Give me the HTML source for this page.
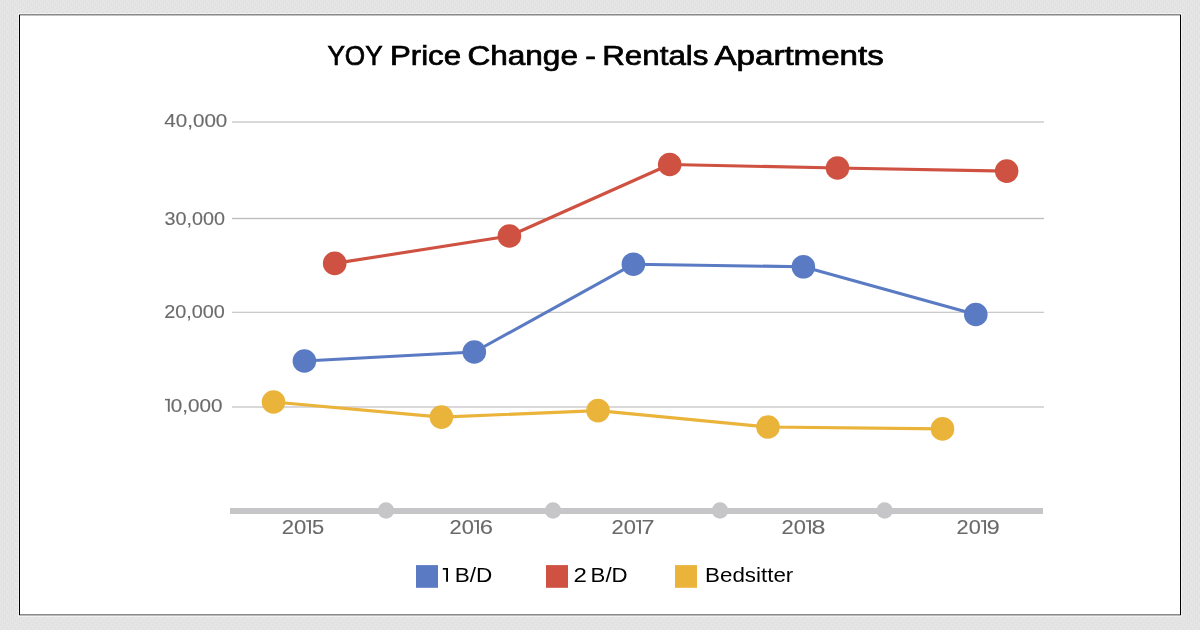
<!DOCTYPE html>
<html><head><meta charset="utf-8">
<style>
html,body{margin:0;padding:0;width:1200px;height:630px;overflow:hidden;background:#e4e4e4;}
svg{display:block;will-change:transform;}
text{font-family:"Liberation Sans",sans-serif;}
</style></head>
<body>
<svg width="1200" height="630" viewBox="0 0 1200 630">
<defs><pattern id="dots" x="0" y="0" width="8" height="8" patternUnits="userSpaceOnUse"><g fill="#d9d9d9" shape-rendering="crispEdges"><rect x="1" y="0" width="1" height="1"/><rect x="5" y="1" width="1" height="1"/><rect x="3" y="3" width="1" height="1"/><rect x="7" y="4" width="1" height="1"/><rect x="1" y="5" width="1" height="1"/><rect x="5" y="6" width="1" height="1"/><rect x="3" y="7" width="1" height="1"/></g></pattern></defs>
<rect x="0" y="0" width="1200" height="630" fill="#e5e5e5"/>
<rect x="0" y="0" width="1200" height="630" fill="url(#dots)"/>
<rect x="18" y="13" width="1164" height="604" fill="#f0f0f0"/>
<rect x="19" y="14" width="1162" height="602" fill="#ffffff"/>
<rect x="19" y="14" width="1162" height="1" fill="#8a8a8a"/>
<rect x="19" y="15" width="1162" height="1" fill="#c2c2c2"/>
<rect x="19" y="614" width="1162" height="1" fill="#8a8a8a"/>
<rect x="19" y="615" width="1162" height="1" fill="#b8b8b8"/>
<rect x="19" y="15" width="1" height="600" fill="#000"/>
<rect x="1180" y="15" width="1" height="600" fill="#000"/>

<g font-size="26.8" fill="#000" stroke="#000" stroke-width="0.7">
<text x="327.41" y="64.8" textLength="55.26" lengthAdjust="spacingAndGlyphs">YOY</text>
<text x="389.92" y="64.8" textLength="71.15" lengthAdjust="spacingAndGlyphs">Price</text>
<text x="467.4" y="64.8" textLength="110.56" lengthAdjust="spacingAndGlyphs">Change</text>
<text x="585.28" y="64.8" textLength="10.67" lengthAdjust="spacingAndGlyphs">-</text>
<text x="602.2" y="64.8" textLength="106.27" lengthAdjust="spacingAndGlyphs">Rentals</text>
<text x="714.48" y="64.8" textLength="169.31" lengthAdjust="spacingAndGlyphs">Apartments</text>
</g>
<rect x="232" y="121" width="812" height="2" fill="#dad8da"/>
<rect x="232" y="217.8" width="812" height="1.4" fill="#c0bec0"/>
<rect x="232" y="311.7" width="812" height="1.3" fill="#cbcacb"/>
<rect x="232" y="406" width="812" height="2" fill="#dad8da"/>
<g fill="#6a6a6a" font-size="18.9" stroke="#6a6a6a" stroke-width="0.12">
<text x="164.29" y="126.9" textLength="63.05" lengthAdjust="spacingAndGlyphs">40,000</text>
<text x="164.49" y="224.6" textLength="60.44" lengthAdjust="spacingAndGlyphs">30,000</text>
<text x="164.22" y="317.8" textLength="60.64" lengthAdjust="spacingAndGlyphs">20,000</text>
<rect x="165.0" y="398.90000000000003" width="4.7" height="1.45" stroke="none"/><rect x="167.85" y="398.90000000000003" width="1.85" height="12.9" stroke="none"/>
<text x="170.69" y="411.8" textLength="51.76" lengthAdjust="spacingAndGlyphs">0,000</text>
</g>
<rect x="230" y="508" width="813" height="6" fill="#c6c5c8"/>
<g fill="#c6c5c8"><circle cx="386" cy="510.5" r="8.2"/><circle cx="553" cy="510.5" r="8.2"/><circle cx="720" cy="510.5" r="8.2"/><circle cx="884.6" cy="510.5" r="8.2"/></g>
<g fill="#6a6a6a" font-size="19.8" stroke="#6a6a6a" stroke-width="0.12">
<text x="281.68" y="533.8" textLength="24.57" lengthAdjust="spacingAndGlyphs">20</text>
<rect x="306.1" y="520.25" width="4.8" height="1.5" stroke="none"/><rect x="309.0" y="520.25" width="1.9" height="13.55" stroke="none"/>
<text x="312.11" y="533.8" textLength="12.19" lengthAdjust="spacingAndGlyphs">5</text>
<text x="449.64" y="533.8" textLength="24.37" lengthAdjust="spacingAndGlyphs">20</text>
<rect x="473.9" y="520.25" width="5.0" height="1.5" stroke="none"/><rect x="477.0" y="520.25" width="1.9" height="13.55" stroke="none"/>
<text x="479.86" y="533.8" textLength="13.24" lengthAdjust="spacingAndGlyphs">6</text>
<text x="611.64" y="533.8" textLength="24.37" lengthAdjust="spacingAndGlyphs">20</text>
<rect x="635.9" y="520.25" width="5.0" height="1.5" stroke="none"/><rect x="639.0" y="520.25" width="1.9" height="13.55" stroke="none"/>
<text x="641.49" y="533.8" textLength="13.01" lengthAdjust="spacingAndGlyphs">7</text>
<text x="781.64" y="533.8" textLength="24.37" lengthAdjust="spacingAndGlyphs">20</text>
<rect x="805.9" y="520.25" width="5.0" height="1.5" stroke="none"/><rect x="809.0" y="520.25" width="1.9" height="13.55" stroke="none"/>
<text x="811.56" y="533.8" textLength="13.92" lengthAdjust="spacingAndGlyphs">8</text>
<text x="956.64" y="533.8" textLength="24.18" lengthAdjust="spacingAndGlyphs">20</text>
<rect x="981.0" y="520.25" width="5.0" height="1.5" stroke="none"/><rect x="984.1" y="520.25" width="1.9" height="13.55" stroke="none"/>
<text x="986.66" y="533.8" textLength="12.97" lengthAdjust="spacingAndGlyphs">9</text>
</g>
<polyline fill="none" stroke="#cf5141" stroke-width="3.1" stroke-linejoin="round" points="334.7,263.4 509.4,236 669.7,164.5 837.5,168 1006.7,171.1"/>
<g fill="#cf5141"><circle cx="334.7" cy="263.4" r="11.8"/><circle cx="509.4" cy="236" r="11.8"/><circle cx="669.7" cy="164.5" r="11.8"/><circle cx="837.5" cy="168" r="11.8"/><circle cx="1006.7" cy="171.1" r="11.8"/></g>
<polyline fill="none" stroke="#5a7bc3" stroke-width="3.1" stroke-linejoin="round" points="304.4,361 474.3,352 633.4,264.2 803.4,266.8 975.8,314.5"/>
<g fill="#5a7bc3"><circle cx="304.4" cy="361" r="11.8"/><circle cx="474.3" cy="352" r="11.8"/><circle cx="633.4" cy="264.2" r="11.8"/><circle cx="803.4" cy="266.8" r="11.8"/><circle cx="975.8" cy="314.5" r="11.8"/></g>
<polyline fill="none" stroke="#eab43a" stroke-width="3.1" stroke-linejoin="round" points="273.5,402 441.4,417.1 598,410.6 768,427 942.5,428.9"/>
<g fill="#eab43a"><circle cx="273.5" cy="402" r="11.8"/><circle cx="441.4" cy="417.1" r="11.8"/><circle cx="598" cy="410.6" r="11.8"/><circle cx="768" cy="427" r="11.8"/><circle cx="942.5" cy="428.9" r="11.8"/></g>
<rect x="416" y="565.1" width="22" height="22.7" fill="#5a7bc3"/>
<rect x="546" y="565.1" width="22" height="22.7" fill="#cf5141"/>
<rect x="675" y="565.1" width="22" height="22.7" fill="#eab43a"/>
<g fill="#000" font-size="20">
<rect x="442.8" y="568" width="5.2" height="1.7" stroke="none"/><rect x="446.1" y="568" width="1.9" height="13.75" stroke="none"/>
<text x="454.8" y="581.8" textLength="37.59" lengthAdjust="spacingAndGlyphs">B/D</text>
<text x="573.48" y="581.8" textLength="13.36" lengthAdjust="spacingAndGlyphs">2</text>
<text x="590.62" y="581.8" textLength="37.0" lengthAdjust="spacingAndGlyphs">B/D</text>
<text x="705.13" y="581.8" textLength="88.15" lengthAdjust="spacingAndGlyphs">Bedsitter</text>
</g>
</svg>
</body></html>
